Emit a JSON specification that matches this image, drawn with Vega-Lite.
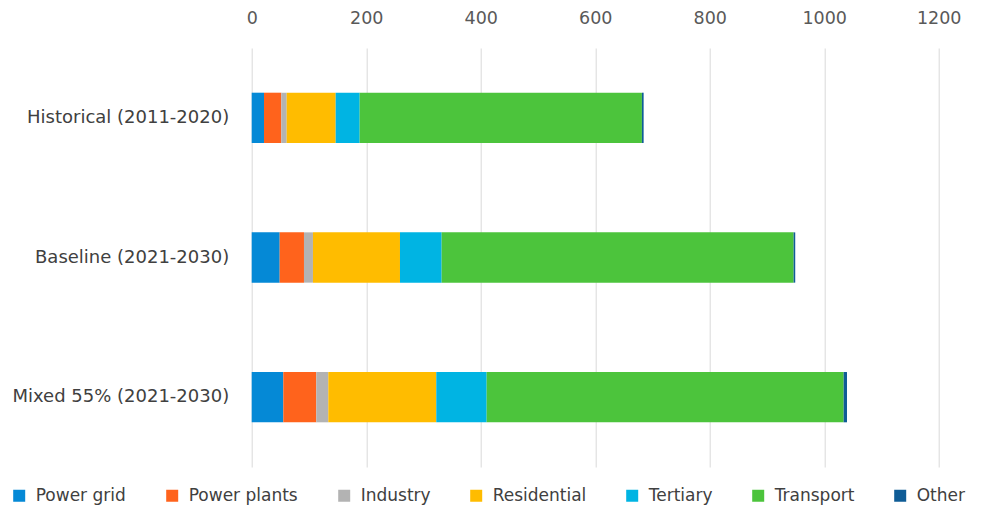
{
  "$schema": "https://vega.github.io/schema/vega-lite/v6.json",
  "width": 687,
  "height": 419,
  "autosize": {"type": "none"},
  "padding": {"left": 251.7, "top": 48, "right": 42.3, "bottom": 43},
  "background": "white",
  "config": {
    "view": {"stroke": null},
    "font": "DejaVu Sans"
  },
  "data": {
    "values": [
      {"scenario": "Historical (2011-2020)", "sector": "Power grid", "value": 21.5},
      {"scenario": "Historical (2011-2020)", "sector": "Power plants", "value": 30.2},
      {"scenario": "Historical (2011-2020)", "sector": "Industry", "value": 9.4},
      {"scenario": "Historical (2011-2020)", "sector": "Residential", "value": 85.6},
      {"scenario": "Historical (2011-2020)", "sector": "Tertiary", "value": 41.9},
      {"scenario": "Historical (2011-2020)", "sector": "Transport", "value": 493},
      {"scenario": "Historical (2011-2020)", "sector": "Other", "value": 3},
      {"scenario": "Baseline (2021-2030)", "sector": "Power grid", "value": 48.9},
      {"scenario": "Baseline (2021-2030)", "sector": "Power plants", "value": 42.4},
      {"scenario": "Baseline (2021-2030)", "sector": "Industry", "value": 15.7},
      {"scenario": "Baseline (2021-2030)", "sector": "Residential", "value": 152},
      {"scenario": "Baseline (2021-2030)", "sector": "Tertiary", "value": 72.8},
      {"scenario": "Baseline (2021-2030)", "sector": "Transport", "value": 614.8},
      {"scenario": "Baseline (2021-2030)", "sector": "Other", "value": 2.8},
      {"scenario": "Mixed 55% (2021-2030)", "sector": "Power grid", "value": 55.2},
      {"scenario": "Mixed 55% (2021-2030)", "sector": "Power plants", "value": 57.6},
      {"scenario": "Mixed 55% (2021-2030)", "sector": "Industry", "value": 21},
      {"scenario": "Mixed 55% (2021-2030)", "sector": "Residential", "value": 188.6},
      {"scenario": "Mixed 55% (2021-2030)", "sector": "Tertiary", "value": 88},
      {"scenario": "Mixed 55% (2021-2030)", "sector": "Transport", "value": 623.6},
      {"scenario": "Mixed 55% (2021-2030)", "sector": "Other", "value": 5.8}
    ]
  },
  "transform": [
    {"calculate": "indexof(['Power grid','Power plants','Industry','Residential','Tertiary','Transport','Other'], datum.sector)", "as": "stackOrder"}
  ],
  "mark": {"type": "bar"},
  "encoding": {
    "y": {
      "field": "scenario",
      "type": "nominal",
      "sort": ["Historical (2011-2020)", "Baseline (2021-2030)", "Mixed 55% (2021-2030)"],
      "scale": {"paddingInner": 0.64, "paddingOuter": 0.32},
      "axis": {
        "title": null,
        "domain": false,
        "ticks": false,
        "labelPadding": 23,
        "labelFontSize": 18,
        "labelLimit": 0,
        "labelColor": "#404040"
      }
    },
    "x": {
      "field": "value",
      "type": "quantitative",
      "stack": "zero",
      "scale": {"domain": [0, 1200], "nice": false},
      "axis": {
        "orient": "top",
        "title": null,
        "values": [0, 200, 400, 600, 800, 1000, 1200],
        "format": "d",
        "domain": false,
        "ticks": false,
        "labelFlush": false,
        "labelPadding": 21,
        "labelFontSize": 17.5,
        "labelColor": "#595959",
        "gridColor": "#d9d9d9",
        "gridWidth": 1
      }
    },
    "order": {"field": "stackOrder", "type": "quantitative", "sort": "ascending"},
    "color": {
      "field": "sector",
      "type": "nominal",
      "sort": ["Power grid", "Power plants", "Industry", "Residential", "Tertiary", "Transport", "Other"],
      "scale": {
        "domain": ["Power grid", "Power plants", "Industry", "Residential", "Tertiary", "Transport", "Other"],
        "range": ["#0589D6", "#FF631C", "#B3B3B3", "#FFBC00", "#00B4E3", "#4CC43C", "#0F5C96"]
      },
      "legend": {
        "title": null,
        "orient": "none",
        "direction": "horizontal",
        "legendX": -241,
        "legendY": 439,
        "symbolType": "square",
        "symbolSize": 144,
        "symbolStrokeWidth": 0,
        "symbolOpacity": 1,
        "labelFontSize": 17,
        "labelColor": "#404040",
        "columnPadding": 37,
        "labelOffset": 8
      }
    }
  }
}
